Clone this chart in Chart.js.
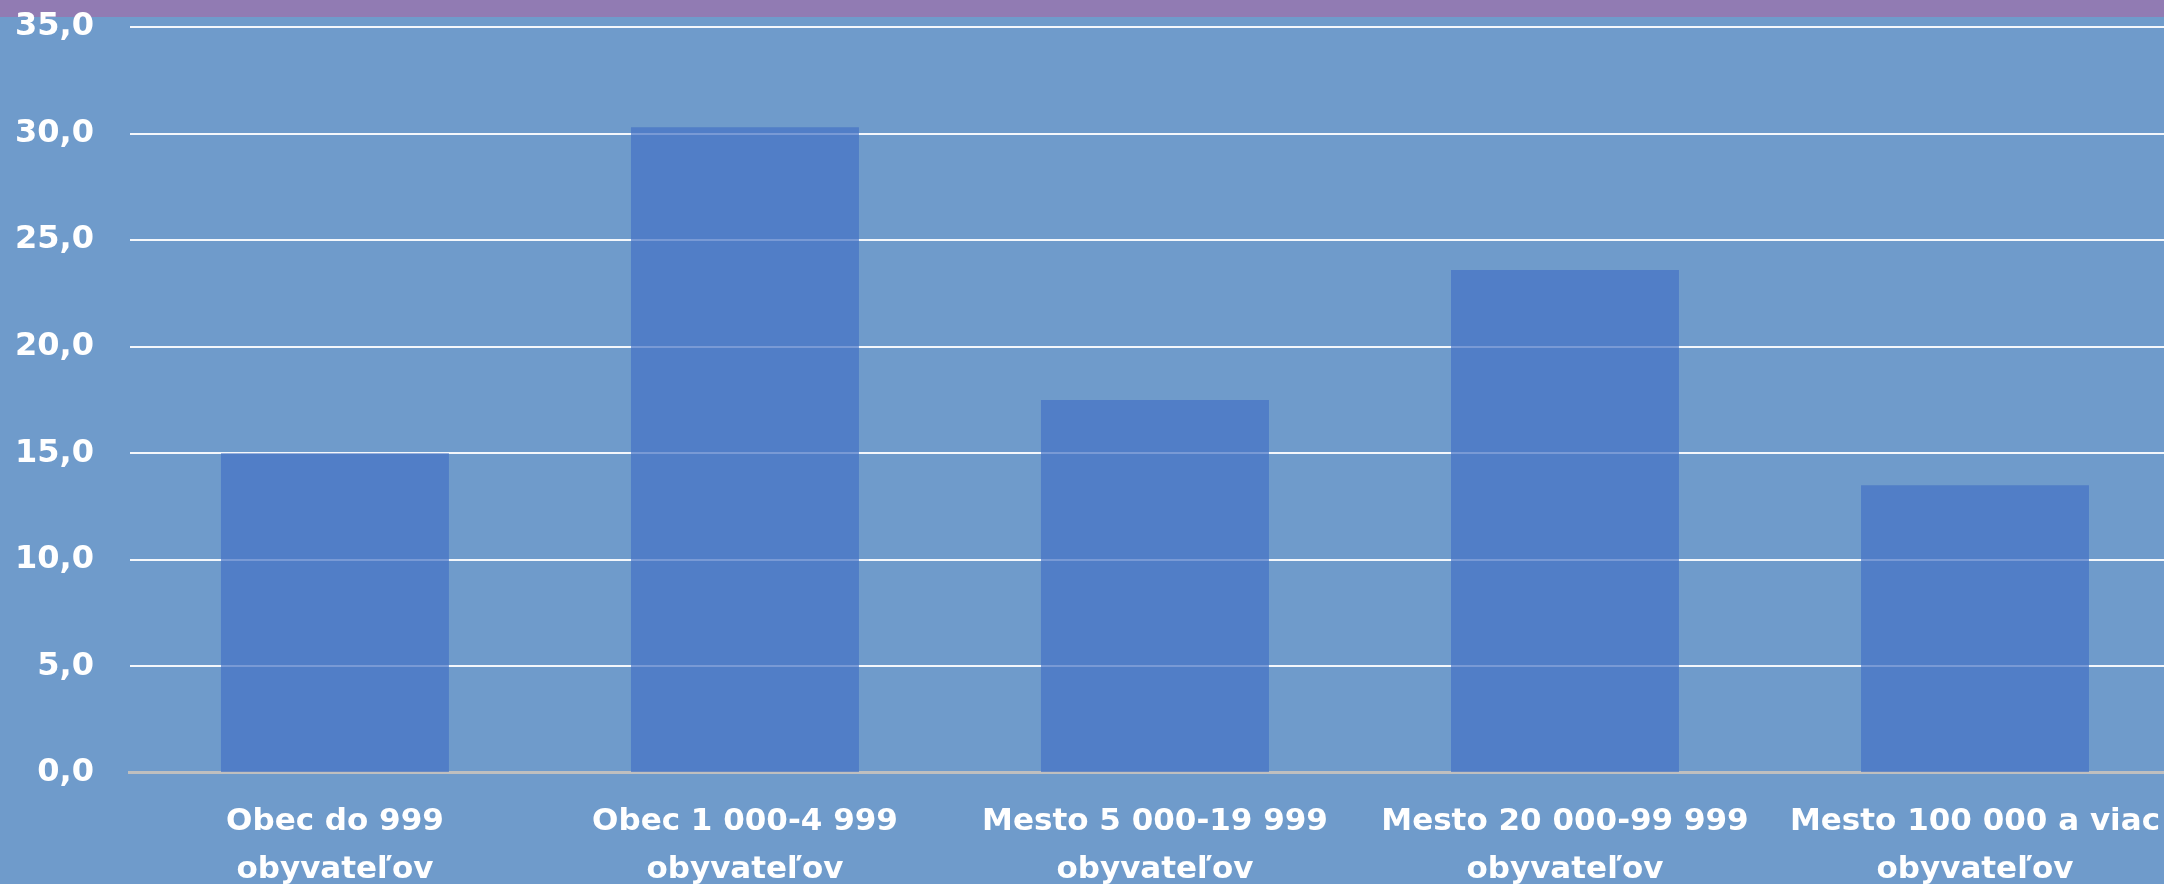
<!DOCTYPE html>
<html>
<head>
<meta charset="utf-8">
<script src="https://cdn.jsdelivr.net/npm/chart.js@4"></script>
<style>
  html, body { margin: 0; padding: 0; overflow: hidden; background: #6f9bcb; }
  #wrap { position: absolute; left: 0; top: 0; width: 2190px; height: 894px; }
</style>
</head>
<body>
<div id="wrap"><canvas id="chart"></canvas></div>
<script>
// Data
const categories = [
  ['Obec do 999', 'obyvateľov'],
  ['Obec 1 000-4 999', 'obyvateľov'],
  ['Mesto 5 000-19 999', 'obyvateľov'],
  ['Mesto 20 000-99 999', 'obyvateľov'],
  ['Mesto 100 000 a viac', 'obyvateľov'],
];
const values = [15.0, 30.3, 17.5, 23.6, 13.5];
const yTicks = [0, 5, 10, 15, 20, 25, 30, 35];

const COLORS = {
  bg: '#6f9bcb',
  strip: '#917bb3',
  bar: 'rgba(68, 114, 196, 0.7)',
  grid: 'rgba(255, 255, 255, 0.92)',
  base: '#bfbfbf',
  text: '#ffffff',
};

// background + purple strip at the top
const backdrop = {
  id: 'backdrop',
  beforeDraw(chart) {
    const { ctx, width, height } = chart;
    ctx.save();
    ctx.fillStyle = COLORS.bg;
    ctx.fillRect(0, 0, width, height);
    ctx.fillStyle = COLORS.strip;
    ctx.fillRect(0, 0, width, 17);
    ctx.restore();
  },
};

new Chart(document.getElementById('chart'), {
  type: 'bar',
  data: {
    labels: categories,
    datasets: [{
      data: values,
      backgroundColor: COLORS.bar,
      borderWidth: 0,
      categoryPercentage: 1,
      barPercentage: 0.556,
    }],
  },
  options: {
    responsive: true,
    maintainAspectRatio: false,
    animation: false,
    layout: { padding: { left: 15, right: 10, top: 27, bottom: 0 } },
    plugins: {
      legend: { display: false },
      tooltip: { enabled: false },
    },
    scales: {
      x: {
        // invisible tick marks give the gap between axis and labels
        grid: { display: true, drawOnChartArea: false, drawTicks: true, tickLength: 25, tickColor: 'transparent' },
        border: { display: true, color: COLORS.base, width: 3 },
        ticks: {
          color: COLORS.text,
          font: { family: 'DejaVu Sans', weight: 'bold', size: 31, lineHeight: 1.55 },
          padding: 0,
          maxRotation: 0,
          autoSkip: false,
        },
      },
      y: {
        min: 0,
        max: 35,
        afterBuildTicks: (axis) => { axis.ticks = yTicks.map((v) => ({ value: v })); },
        grid: {
          drawTicks: true,
          tickLength: 36,
          tickColor: 'transparent',
          color: COLORS.grid,
          lineWidth: 2,
        },
        border: { display: false },
        ticks: {
          color: COLORS.text,
          font: { family: 'DejaVu Sans', weight: 'bold', size: 32 },
          padding: 0,
          callback: (v) => v.toFixed(1).replace('.', ','),
        },
      },
    },
  },
  plugins: [backdrop],
});
</script>
</body>
</html>
